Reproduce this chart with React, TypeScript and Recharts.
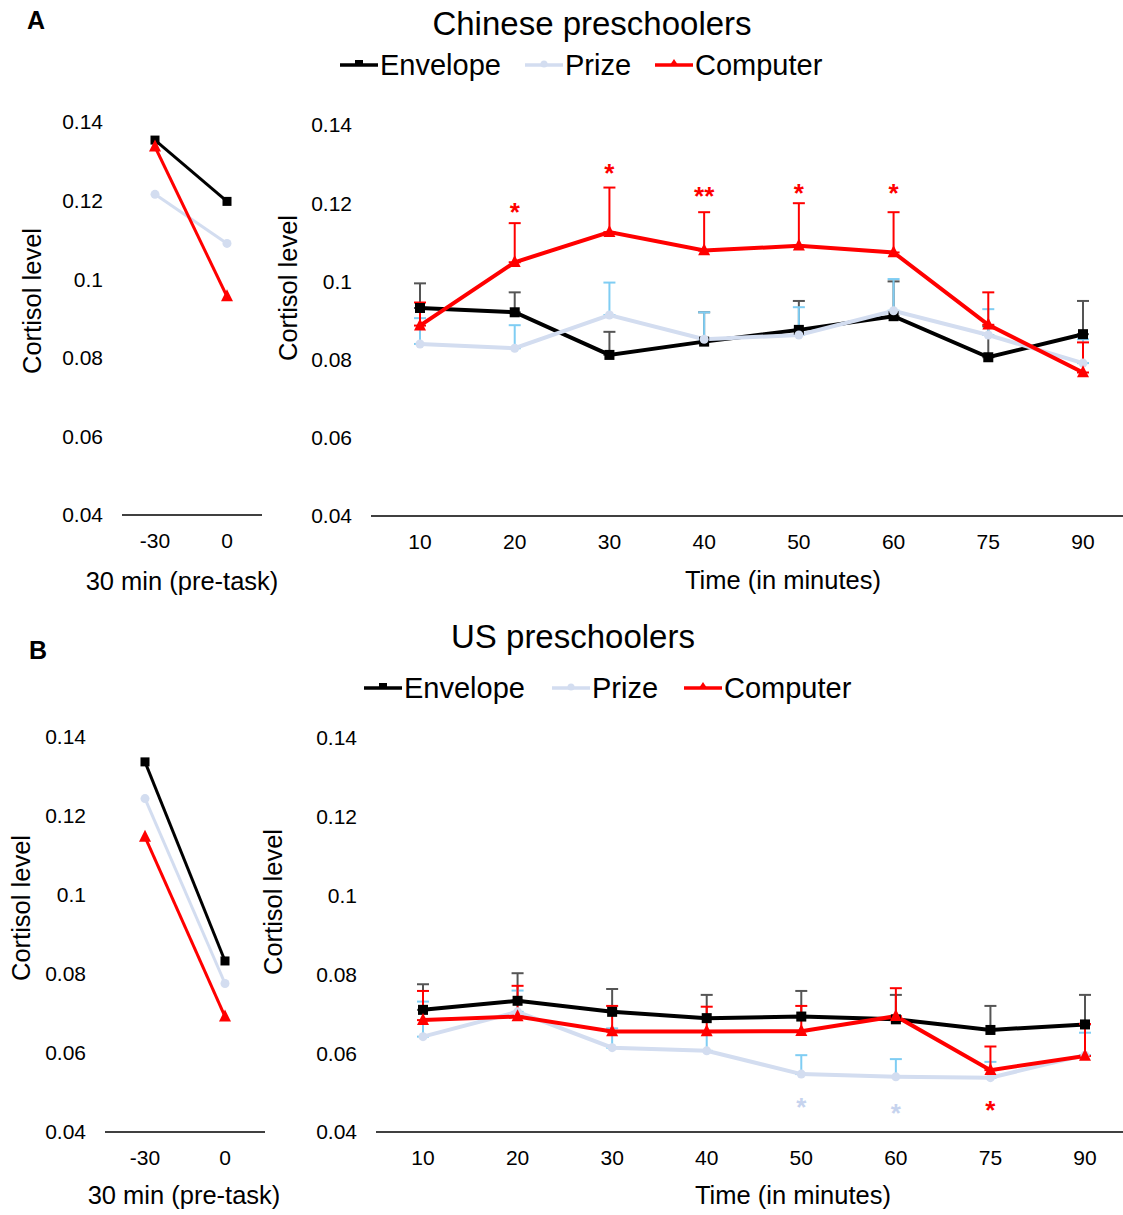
import React from 'react';
import { LineChart, Line, XAxis, YAxis, ErrorBar } from 'recharts';

const FONT = '"Liberation Sans", Arial, Helvetica, sans-serif';

const preTimes = ['-30', '0'];
const taskTimes = ['10', '20', '30', '40', '50', '60', '75', '90'];
const yTicks = [0.04, 0.06, 0.08, 0.1, 0.12, 0.14];

// A: Chinese preschoolers
const cnPreEnvelope = [0.1354, 0.1198];
const cnPrePrize = [0.1216, 0.1091];
const cnPreComputer = [0.1337, 0.0956];

const cnEnvelope = [0.0932, 0.0921, 0.0812, 0.0846, 0.0876, 0.0911, 0.0806, 0.0865];
const cnEnvelopeErr = [0.0063, 0.0051, 0.0059, 0.0075, 0.0074, 0.0089, 0.0079, 0.0085];
const cnPrize = [0.084, 0.0829, 0.0914, 0.0852, 0.0863, 0.0925, 0.0863, 0.0791];
const cnPrizeErr = [0.0066, 0.0059, 0.0083, 0.0069, 0.0071, 0.0081, 0.0066, 0.0061];
const cnComputer = [0.0887, 0.1049, 0.1126, 0.1079, 0.1091, 0.1074, 0.0889, 0.0767];
const cnComputerErr = [0.0059, 0.01, 0.0114, 0.0098, 0.0109, 0.0103, 0.0083, 0.0077];
const cnComputerStars = ['', '*', '*', '**', '*', '*', '', ''];
const cnComputerStarY = [null, 0.1188, 0.1287, 0.1229, 0.1236, 0.1236, null, null];

// B: US preschoolers
const usPreEnvelope = [0.1337, 0.0833];
const usPrePrize = [0.1244, 0.0776];
const usPreComputer = [0.1147, 0.0692];

const usEnvelope = [0.071, 0.0733, 0.0705, 0.0689, 0.0693, 0.0686, 0.0659, 0.0673];
const usEnvelopeErr = [0.0065, 0.007, 0.0058, 0.0059, 0.0065, 0.0062, 0.0061, 0.0075];
const usPrize = [0.0642, 0.0705, 0.0614, 0.0606, 0.0547, 0.054, 0.0538, 0.0595];
const usPrizeErr = [0.0089, 0.0054, 0.0049, 0.0049, 0.0048, 0.0045, 0.004, 0.0057];
const usComputer = [0.0684, 0.0693, 0.0655, 0.0655, 0.0656, 0.0694, 0.0557, 0.0593];
const usComputerErr = [0.0074, 0.0078, 0.0065, 0.0063, 0.0064, 0.0071, 0.006, 0.0081];
const usPrizeStars = ['', '', '', '', '*', '*', '', ''];
const usPrizeStarY = [null, null, null, null, 0.0474, 0.0458, null, null];
const usComputerStars = ['', '', '', '', '', '', '*', ''];
const usComputerStarY = [null, null, null, null, null, null, 0.0467, null];

const BLACK = '#000000';
const LIGHT = '#d3ddf0';
const RED = '#ff0000';
const ERR_BLACK = '#555555';
const ERR_BLUE = '#7fcdf3';

type Row = Record<string, any>;

function buildRows(
  times: string[],
  env: number[],
  prize: number[],
  comp: number[],
  extra?: {
    envErr?: number[];
    prizeErr?: number[];
    compErr?: number[];
    compStars?: string[];
    compStarY?: (number | null)[];
    prizeStars?: string[];
    prizeStarY?: (number | null)[];
  }
): Row[] {
  return times.map((t, i) => ({
    t,
    env: env[i],
    prize: prize[i],
    comp: comp[i],
    envErr: extra?.envErr ? [0, extra.envErr[i]] : undefined,
    prizeErr: extra?.prizeErr ? [0, extra.prizeErr[i]] : undefined,
    compErr: extra?.compErr ? [0, extra.compErr[i]] : undefined,
    compStar: extra?.compStarY ? extra.compStarY[i] : null,
    compStarText: extra?.compStars ? extra.compStars[i] : '',
    prizeStar: extra?.prizeStarY ? extra.prizeStarY[i] : null,
    prizeStarText: extra?.prizeStars ? extra.prizeStars[i] : '',
  }));
}

const squareDot = (size: number) => (props: any) => {
  const { cx, cy, index } = props;
  if (cx == null || cy == null) return <g key={`sq-${index}`} />;
  return <rect key={`sq-${index}`} x={cx - size / 2} y={cy - size / 2} width={size} height={size} fill={BLACK} />;
};

const circleDot = (r: number) => (props: any) => {
  const { cx, cy, index } = props;
  if (cx == null || cy == null) return <g key={`ci-${index}`} />;
  return <circle key={`ci-${index}`} cx={cx} cy={cy} r={r} fill={LIGHT} />;
};

const triDot = (s: number) => (props: any) => {
  const { cx, cy, index } = props;
  if (cx == null || cy == null) return <g key={`tr-${index}`} />;
  const d = `M${cx},${cy - s * 0.6} L${cx + s / 2},${cy + s * 0.4} L${cx - s / 2},${cy + s * 0.4} Z`;
  return <path key={`tr-${index}`} d={d} fill={RED} />;
};

const starDot = (textKey: string, color: string) => (props: any) => {
  const { cx, cy, index, payload } = props;
  if (cx == null || cy == null || !payload || !payload[textKey]) return <g key={`st-${index}`} />;
  return (
    <text
      key={`st-${index}`}
      x={cx}
      y={cy + 13}
      textAnchor="middle"
      fontSize={26}
      fontWeight="bold"
      fontFamily={FONT}
      fill={color}
    >
      {payload[textKey]}
    </text>
  );
};

interface PanelProps {
  rows: Row[];
  left: number;
  top: number;
  width: number;
  height: number;
  yWidth: number;
  marginTop: number;
  padLeft: number;
  padRight: number;
  strokeW: number;
  withErr?: boolean;
  prizeStars?: boolean;
  compStars?: boolean;
}

function Panel(p: PanelProps) {
  const tick = { fill: '#000', fontSize: 21, fontFamily: FONT };
  return (
    <div style={{ position: 'absolute', left: p.left, top: p.top }}>
      <LineChart
        width={p.width}
        height={p.height}
        data={p.rows}
        margin={{ top: p.marginTop, right: 0, bottom: 0, left: 0 }}
      >
        <XAxis
          dataKey="t"
          scale="point"
          padding={{ left: p.padLeft, right: p.padRight }}
          axisLine={{ stroke: '#000', strokeWidth: 1.5 }}
          tickLine={false}
          tickSize={0}
          tickMargin={18}
          height={40}
          interval={0}
          tick={tick}
        />
        <YAxis
          type="number"
          domain={[0.04, 0.14]}
          ticks={yTicks}
          allowDataOverflow
          axisLine={false}
          tickLine={false}
          tickSize={0}
          tickMargin={19}
          width={p.yWidth}
          tick={tick}
          tickFormatter={(v: number) => String(v)}
        />
        <Line
          dataKey="env"
          stroke={BLACK}
          strokeWidth={p.strokeW}
          dot={squareDot(p.withErr ? 10 : 9)}
          activeDot={false}
          isAnimationActive={false}
        >
          {p.withErr && (
            <ErrorBar dataKey="envErr" direction="y" width={6} stroke={ERR_BLACK} strokeWidth={2} />
          )}
        </Line>
        <Line
          dataKey="prize"
          stroke={LIGHT}
          strokeWidth={p.strokeW}
          dot={circleDot(4.5)}
          activeDot={false}
          isAnimationActive={false}
        >
          {p.withErr && (
            <ErrorBar dataKey="prizeErr" direction="y" width={6} stroke={ERR_BLUE} strokeWidth={2} />
          )}
        </Line>
        <Line
          dataKey="comp"
          stroke={RED}
          strokeWidth={p.strokeW}
          dot={triDot(12)}
          activeDot={false}
          isAnimationActive={false}
        >
          {p.withErr && (
            <ErrorBar dataKey="compErr" direction="y" width={6} stroke={RED} strokeWidth={2} />
          )}
        </Line>
        {p.compStars && (
          <Line
            dataKey="compStar"
            stroke="none"
            dot={starDot('compStarText', RED)}
            activeDot={false}
            isAnimationActive={false}
          />
        )}
        {p.prizeStars && (
          <Line
            dataKey="prizeStar"
            stroke="none"
            dot={starDot('prizeStarText', '#c6d3ee')}
            activeDot={false}
            isAnimationActive={false}
          />
        )}
      </LineChart>
    </div>
  );
}

function LegendRow({ y, env, prize, comp }: { y: number; env: number; prize: number; comp: number }) {
  const w = 38;
  const item = (x: number, color: string, marker: React.ReactNode, label: string) => (
    <g>
      <line x1={x} y1={y} x2={x + w} y2={y} stroke={color} strokeWidth={3.5} />
      {marker}
      <text x={x + w + 2} y={y} dominantBaseline="central" fontSize={29} fontFamily={FONT} fill="#000">
        {label}
      </text>
    </g>
  );
  return (
    <g>
      {item(env, BLACK, <rect x={env + w / 2 - 4} y={y - 5} width={8} height={6} fill={BLACK} />, 'Envelope')}
      {item(prize, LIGHT, <circle cx={prize + w / 2} cy={y - 1} r={3.5} fill={LIGHT} />, 'Prize')}
      {item(
        comp,
        RED,
        <path d={`M${comp + w / 2},${y - 6} L${comp + w / 2 + 4},${y} L${comp + w / 2 - 4},${y} Z`} fill={RED} />,
        'Computer'
      )}
    </g>
  );
}

function Overlay() {
  const label = (x: number, y: number, text: string, size = 25.5, rotate = false) => (
    <text
      x={x}
      y={y}
      textAnchor="middle"
      dominantBaseline="central"
      fontSize={size}
      fontFamily={FONT}
      fill="#000"
      transform={rotate ? `rotate(-90 ${x} ${y})` : undefined}
    >
      {text}
    </text>
  );
  return (
    <svg
      width={1123}
      height={1215}
      style={{ position: 'absolute', left: 0, top: 0, pointerEvents: 'none' }}
    >
      <text x={36} y={20} textAnchor="middle" dominantBaseline="central" fontSize={25} fontWeight="bold" fontFamily={FONT}>
        A
      </text>
      <text x={38} y={650} textAnchor="middle" dominantBaseline="central" fontSize={25} fontWeight="bold" fontFamily={FONT}>
        B
      </text>
      {label(592, 23, 'Chinese preschoolers', 33)}
      {label(573, 636, 'US preschoolers', 33)}
      <LegendRow y={65} env={340} prize={525} comp={655} />
      <LegendRow y={688} env={364} prize={552} comp={684} />
      {label(32, 301, 'Cortisol level', 25.5, true)}
      {label(288, 288, 'Cortisol level', 25.5, true)}
      {label(21, 908, 'Cortisol level', 25.5, true)}
      {label(273, 902, 'Cortisol level', 25.5, true)}
      {label(182, 581, '30 min (pre-task)')}
      {label(783, 580, 'Time (in minutes)')}
      {label(184, 1195, '30 min (pre-task)')}
      {label(793, 1195, 'Time (in minutes)')}
    </svg>
  );
}

export default function App() {
  const cnPre = buildRows(preTimes, cnPreEnvelope, cnPrePrize, cnPreComputer);
  const cnTask = buildRows(taskTimes, cnEnvelope, cnPrize, cnComputer, {
    envErr: cnEnvelopeErr,
    prizeErr: cnPrizeErr,
    compErr: cnComputerErr,
    compStars: cnComputerStars,
    compStarY: cnComputerStarY,
  });
  const usPre = buildRows(preTimes, usPreEnvelope, usPrePrize, usPreComputer);
  const usTask = buildRows(taskTimes, usEnvelope, usPrize, usComputer, {
    envErr: usEnvelopeErr,
    prizeErr: usPrizeErr,
    compErr: usComputerErr,
    compStars: usComputerStars,
    compStarY: usComputerStarY,
    prizeStars: usPrizeStars,
    prizeStarY: usPrizeStarY,
  });

  return (
    <div
      style={{
        position: 'absolute',
        left: 0,
        top: 0,
        width: 1123,
        height: 1215,
        background: '#fff',
        overflow: 'hidden',
        fontFamily: FONT,
      }}
    >
      <Panel rows={cnPre} left={0} top={100} width={262} height={455} yWidth={122} marginTop={22}
        padLeft={33} padRight={35} strokeW={3} />
      <Panel rows={cnTask} left={262} top={100} width={861} height={456} yWidth={109} marginTop={25}
        padLeft={49} padRight={40} strokeW={4} withErr compStars />
      <Panel rows={usPre} left={0} top={700} width={265} height={472} yWidth={105} marginTop={37}
        padLeft={40} padRight={40} strokeW={3} />
      <Panel rows={usTask} left={265} top={700} width={858} height={472} yWidth={111} marginTop={38}
        padLeft={47} padRight={38} strokeW={4} withErr compStars prizeStars />
      <Overlay />
    </div>
  );
}
